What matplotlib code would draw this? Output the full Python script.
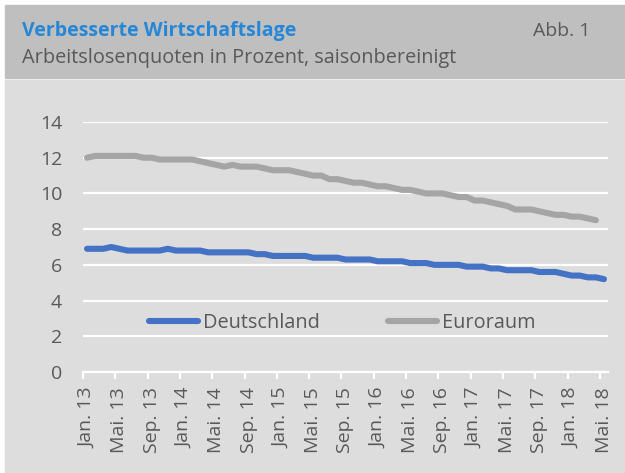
import numpy as np
import matplotlib.pyplot as plt
from matplotlib.patches import Rectangle

# Arbeitslosenquoten, saisonbereinigt, monatlich ab Jan. 2013
deutschland = [
    6.9, 6.9, 6.9, 7.0, 6.9, 6.8, 6.8, 6.8, 6.8, 6.8, 6.9, 6.8,   # 2013
    6.8, 6.8, 6.8, 6.7, 6.7, 6.7, 6.7, 6.7, 6.7, 6.6, 6.6, 6.5,   # 2014
    6.5, 6.5, 6.5, 6.5, 6.4, 6.4, 6.4, 6.4, 6.3, 6.3, 6.3, 6.3,   # 2015
    6.2, 6.2, 6.2, 6.2, 6.1, 6.1, 6.1, 6.0, 6.0, 6.0, 6.0, 5.9,   # 2016
    5.9, 5.9, 5.8, 5.8, 5.7, 5.7, 5.7, 5.7, 5.6, 5.6, 5.6, 5.5,   # 2017
    5.4, 5.4, 5.3, 5.3, 5.2,                                      # 2018
]
euroraum = [
    12.0, 12.1, 12.1, 12.1, 12.1, 12.1, 12.1, 12.0, 12.0, 11.9, 11.9, 11.9,
    11.9, 11.9, 11.8, 11.7, 11.6, 11.5, 11.6, 11.5, 11.5, 11.5, 11.4, 11.3,
    11.3, 11.3, 11.2, 11.1, 11.0, 11.0, 10.8, 10.8, 10.7, 10.6, 10.6, 10.5,
    10.4, 10.4, 10.3, 10.2, 10.2, 10.1, 10.0, 10.0, 10.0, 9.9, 9.8, 9.8,
    9.6, 9.6, 9.5, 9.4, 9.3, 9.1, 9.1, 9.1, 9.0, 8.9, 8.8, 8.8,
    8.7, 8.7, 8.6, 8.5,
]
tick_labels = ["Jan. 13", "Mai. 13", "Sep. 13", "Jan. 14", "Mai. 14", "Sep. 14",
               "Jan. 15", "Mai. 15", "Sep. 15", "Jan. 16", "Mai. 16", "Sep. 16",
               "Jan. 17", "Mai. 17", "Sep. 17", "Jan. 18", "Mai. 18"]
yticks = [0, 2, 4, 6, 8, 10, 12, 14]

plt.rcParams['font.family'] = ['Open Sans', 'DejaVu Sans']
txt = '#595959'

fig = plt.figure(figsize=(6.25, 4.73), dpi=100)
W, H = 625, 473
# Kopfzeile und Hintergrund
fig.patches.append(Rectangle((5 / W, 1 - 78 / H), 1, 73 / H, transform=fig.transFigure,
                             color='#bfbfbf', zorder=-5))
fig.patches.append(Rectangle((5 / W, 0), 1, 1 - 80 / H, transform=fig.transFigure,
                             color='#dddddd', zorder=-5))
fig.text(22 / W, 1 - 36 / H, "Verbesserte Wirtschaftslage", color='#2687d7',
         fontsize=14, fontweight='bold', va='baseline')
fig.text(590 / W, 1 - 36 / H, "Abb. 1", color=txt, fontsize=14, va='baseline', ha='right')
fig.text(22 / W, 1 - 63 / H, "Arbeitslosenquoten in Prozent, saisonbereinigt", color=txt,
         fontsize=14.3, va='baseline')

ax = fig.add_axes([83 / W, (H - 372) / H, 525 / W, 250 / H])
ax.set_facecolor('none')
x_de = np.arange(len(deutschland))
x_eu = np.arange(len(euroraum))
ax.plot(x_de, deutschland, color='#4472c4', lw=4.4, solid_capstyle='round',
        solid_joinstyle='round', label='Deutschland', zorder=3)
ax.plot(x_eu, euroraum, color='#a5a5a5', lw=4.4, solid_capstyle='round',
        solid_joinstyle='round', label='Euroraum', zorder=3)

ax.set_xlim(-0.5, 64.5)
ax.set_ylim(0, 14)
ax.set_yticks(yticks)
ax.yaxis.grid(True, color='white', lw=1.6)
ax.set_axisbelow(True)
for s in ax.spines.values():
    s.set_visible(False)
ax.spines['bottom'].set_visible(True)
ax.spines['bottom'].set_color('white')
ax.spines['bottom'].set_linewidth(1.6)

pos = np.arange(0, len(deutschland), 4)
ax.set_xticks(pos)
ax.set_xticklabels(tick_labels, rotation=90)
ax.set_xticks(pos - 0.5, minor=True)
ax.tick_params(axis='x', which='major', length=0, pad=11, labelsize=14, labelcolor=txt)
ax.tick_params(axis='x', which='minor', length=5, width=1.6, color='white')
ax.tick_params(axis='y', length=0, pad=15, labelsize=14, labelcolor=txt)

ax.legend(loc='center', bbox_to_anchor=(0.494, 0.197), ncol=2, frameon=False,
          handlelength=2.5, handletextpad=0.25, columnspacing=3.4,
          fontsize=14.3, labelcolor=txt)

fig.savefig('out.png', dpi=100)
